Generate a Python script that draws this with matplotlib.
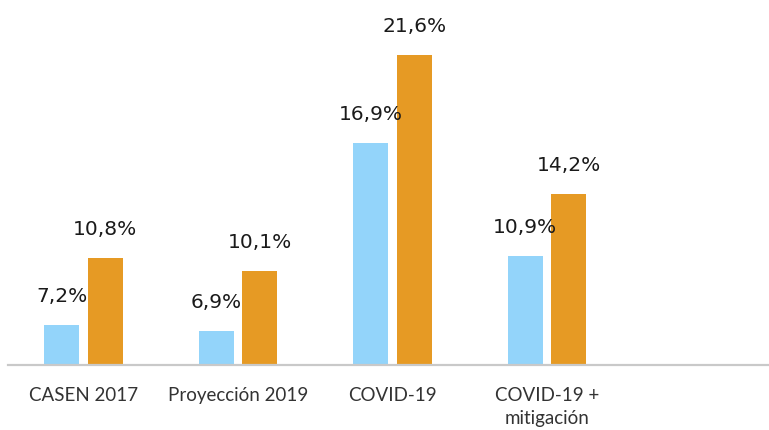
import matplotlib
matplotlib.use("Agg")
import matplotlib.pyplot as plt
import numpy as np

categories = ["CASEN 2017", "Proyección 2019", "COVID-19", "COVID-19 +\nmitigación"]
series_a = [7.2, 6.9, 16.9, 10.9]
series_b = [10.8, 10.1, 21.6, 14.2]

color_a = "#93D4FA"
color_b = "#E69A24"

W, H = 769, 430
fig = plt.figure(figsize=(W / 100, H / 100), dpi=100)
ax = fig.add_axes([8 / W, 65 / H, 761 / W, 365 / H])

x = np.arange(len(categories))
bw = 0.225
off = 0.141
bars_a = ax.bar(x - off, series_a, bw, color=color_a, bottom=0)
bars_b = ax.bar(x + off, series_b, bw, color=color_b, bottom=0)

ymin = 5.07
ax.set_ylim(ymin, ymin + 365 / 18.75)
ax.set_xlim(-75.5 / 154.5, (769 - 83.5) / 154.5)

def fmt(v):
    return f"{v:.1f}".replace(".", ",") + "%"

for bars, vals in ((bars_a, series_a), (bars_b, series_b)):
    for b, v in zip(bars, vals):
        ax.annotate(fmt(v), (b.get_x() + b.get_width() / 2, v),
                    xytext=(0, 16.5), textcoords="offset points",
                    ha="center", va="baseline", fontsize=14.5,
                    family=["DejaVu Sans"], color="#1a1a1a")

for s in ("top", "left", "right"):
    ax.spines[s].set_visible(False)
ax.spines["bottom"].set_color("#C9C9C9")
ax.spines["bottom"].set_linewidth(1.6)
ax.set_yticks([])
ax.set_xticks(x)
ax.set_xticklabels(categories, fontsize=13.5, family=["Lato", "DejaVu Sans"],
                   color="#333333", linespacing=1.45)
ax.tick_params(axis="x", length=0, pad=15.5)

fig.savefig("out.png", dpi=100)
